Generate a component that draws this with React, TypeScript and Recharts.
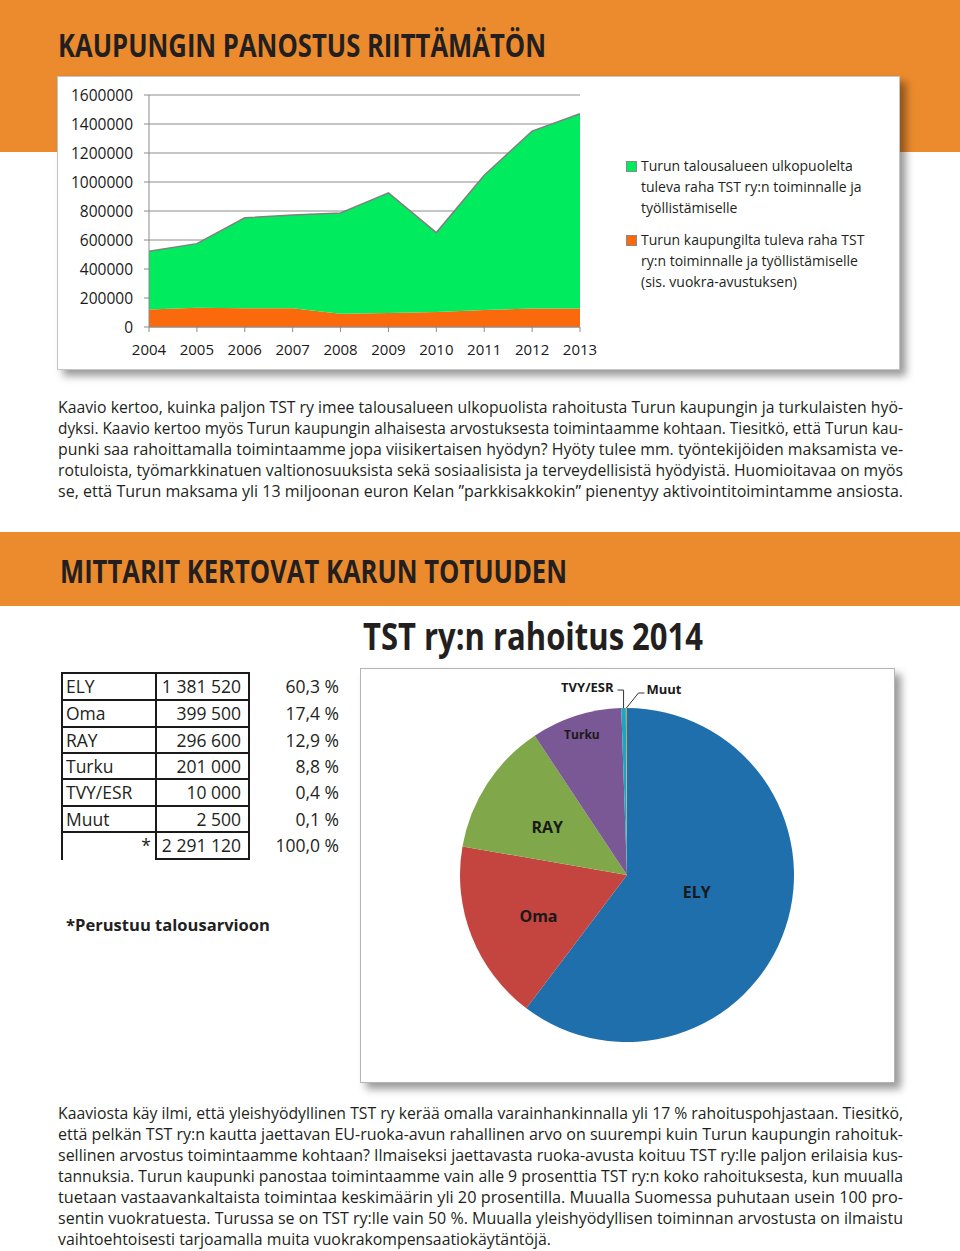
import React from "react"
import { AreaChart, Area, XAxis, YAxis, CartesianGrid, PieChart, Pie, Cell } from "recharts"

// --- area chart data ---
const years = ["2004", "2005", "2006", "2007", "2008", "2009", "2010", "2011", "2012", "2013"]
const cityMoney = [120000, 133000, 129000, 129000, 92000, 97000, 104000, 117000, 127000, 127000]
const outsideMoney = [403000, 442000, 624000, 644000, 695000, 828000, 547000, 930000, 1224000, 1344000]
const yTicks = [0, 200000, 400000, 600000, 800000, 1000000, 1200000, 1400000, 1600000]
const outsideName = "Turun talousalueen ulkopuolelta\ntuleva raha TST ry:n toiminnalle ja\ntyöllistämiselle"
const cityName = "Turun kaupungilta tuleva raha TST\nry:n toiminnalle ja työllistämiselle\n(sis. vuokra-avustuksen)"

// --- pie / table data ---
const sources = ["ELY", "Oma", "RAY", "Turku", "TVY/ESR", "Muut"]
const amounts = [1381520, 399500, 296600, 201000, 10000, 2500]
const amountLabels = ["1 381 520", "399 500", "296 600", "201 000", "10 000", "2 500"]
const shareLabels = ["60,3 %", "17,4 %", "12,9 %", "8,8 %", "0,4 %", "0,1 %"]
const totalLabel = "2 291 120"
const totalShare = "100,0 %"
const sliceColors = ["#1f6fac", "#c4443f", "#80a84a", "#7a5795", "#1ea6be", "#c8a060"]

const text1 = [
  "Kaavio kertoo, kuinka paljon TST ry imee talousalueen ulkopuolista rahoitusta Turun kaupungin ja turkulaisten hyö-",
  "dyksi. Kaavio kertoo myös Turun kaupungin alhaisesta arvostuksesta toimintaamme kohtaan. Tiesitkö, että Turun kau-",
  "punki saa rahoittamalla toimintaamme jopa viisikertaisen hyödyn? Hyöty tulee mm. työntekijöiden maksamista ve-",
  "rotuloista, työmarkkinatuen valtionosuuksista sekä sosiaalisista ja terveydellisistä hyödyistä. Huomioitavaa on myös",
  "se, että Turun maksama yli 13 miljoonan euron  Kelan ”parkkisakkokin” pienentyy  aktivointitoimintamme ansiosta.",
]
const text2 = [
  "Kaaviosta käy ilmi, että yleishyödyllinen TST ry kerää omalla varainhankinnalla yli 17 % rahoituspohjastaan. Tiesitkö,",
  "että pelkän TST ry:n kautta jaettavan EU-ruoka-avun rahallinen arvo on suurempi kuin Turun kaupungin rahoituk-",
  "sellinen arvostus toimintaamme kohtaan? Ilmaiseksi jaettavasta ruoka-avusta koituu TST ry:lle paljon erilaisia kus-",
  "tannuksia. Turun kaupunki panostaa toimintaamme vain alle 9 prosenttia TST ry:n koko rahoituksesta, kun muualla",
  "tuetaan vastaavankaltaista toimintaa keskimäärin yli 20 prosentilla. Muualla Suomessa puhutaan usein 100 pro-",
  "sentin vuokratuesta. Turussa se on TST ry:lle vain 50 %. Muualla yleishyödyllisen toiminnan arvostusta on ilmaistu",
  "vaihtoehtoisesti tarjoamalla muita vuokrakompensaatiokäytäntöjä.",
]

const areaData = years.map((year, i) => ({ year, city: cityMoney[i], outside: outsideMoney[i] }))
const pieData = sources.map((name, i) => ({ name, value: amounts[i] }))

const ORANGE = "#eb8b2e"
const INK = "#231f20"
const FONT = "'Open Sans', sans-serif"
const RAD = Math.PI / 180

const labelLook: Record<string, { r: number; size: number; dy: number }> = {
  ELY: { r: 0.44, size: 16, dy: -6 },
  Oma: { r: 0.57, size: 16, dy: 6 },
  RAY: { r: 0.57, size: 16, dy: 4 },
  Turku: { r: 0.885, size: 12, dy: 0 },
}

function pieLabel(props: any) {
  const { cx, cy, midAngle, outerRadius, name } = props
  const look = labelLook[name]
  if (look) {
    const r = outerRadius * look.r
    const x = cx + r * Math.cos(-midAngle * RAD)
    const y = cy + r * Math.sin(-midAngle * RAD) + look.dy
    return (
      <text x={x} y={y} textAnchor="middle" dominantBaseline="central" fontSize={look.size}
        fontWeight={700} fill="#1a1a1a" fontFamily={FONT}>{name}</text>
    )
  }
  const ex = cx + outerRadius * Math.cos(-midAngle * RAD)
  const ey = cy + outerRadius * Math.sin(-midAngle * RAD)
  if (name === "TVY/ESR") {
    return (
      <g>
        <path d={`M${ex - 6},${ey - 18} H${ex} V${ey}`} stroke="#333" fill="none" strokeWidth={1} />
        <text x={ex - 10} y={ey - 21} textAnchor="end" dominantBaseline="central" fontSize={13}
          fontWeight={700} fill="#1a1a1a" fontFamily={FONT}>{name}</text>
      </g>
    )
  }
  return (
    <g>
      <path d={`M${ex + 18},${ey - 15} H${ex + 12} L${ex},${ey}`} stroke="#333" fill="none" strokeWidth={1} />
      <text x={ex + 20} y={ey - 19} textAnchor="start" dominantBaseline="central" fontSize={13}
        fontWeight={700} fill="#1a1a1a" fontFamily={FONT}>{name}</text>
    </g>
  )
}

function Fit({ x, y, w, size, bold, children }: any) {
  return (
    <text x={x} y={y} fontSize={size} fontWeight={bold ? 700 : 400} fill={INK} fontFamily={FONT}
      textLength={w} lengthAdjust="spacingAndGlyphs">{children}</text>
  )
}

function LegendItem({ color, label, top }: { color: string; label: string; top: number }) {
  return (
    <div style={{ position: "absolute", left: 626, top, display: "flex", fontFamily: FONT, fontSize: 14, lineHeight: "21px", color: INK }}>
      <div style={{ width: 9, height: 9, marginTop: 6, marginRight: 4, background: color, border: "1px solid #8a8a8a" }} />
      <div style={{ whiteSpace: "pre-line" }}>{label}</div>
    </div>
  )
}

const rowTops = [673, 700, 727, 753, 779, 806, 832, 859]

export default function App() {
  const card: React.CSSProperties = {
    position: "absolute", background: "#fff", border: "1px solid #c4c4c4", boxSizing: "border-box",
    boxShadow: "6px 6px 8px rgba(0,0,0,0.4)",
  }
  return (
    <div style={{ position: "relative", width: 960, height: 1251, background: "#fff", overflow: "hidden" }}>
      <style>{"body{margin:0}"}</style>
      <div style={{ position: "absolute", left: 0, top: 0, width: 960, height: 152, background: ORANGE }} />
      <div style={{ position: "absolute", left: 0, top: 532, width: 960, height: 74, background: ORANGE }} />

      <div style={{ ...card, left: 57, top: 76, width: 843, height: 294 }} />
      <div style={{ position: "absolute", left: 57, top: 76 }}>
        <AreaChart width={560} height={294} data={areaData} margin={{ top: 19, right: 37, bottom: 13, left: 0 }}>
          <CartesianGrid vertical={false} stroke="#8c8c8c" />
          <XAxis dataKey="year" scale="point" padding={{ left: 0, right: 0 }} interval={0} height={30}
            tickSize={5} tickMargin={12} stroke="#8c8c8c"
            tick={{ fill: "#1a1a1a", fontSize: 15, fontFamily: FONT }} />
          <YAxis domain={[0, 1600000]} ticks={yTicks} width={92} tickSize={5} tickMargin={11}
            stroke="#8c8c8c" interval={0}
            tick={{ fill: "#1a1a1a", fontSize: 15.5, fontFamily: FONT }} />
          <Area type="linear" dataKey="city" stackId="a" stroke="none" fill="#fa6a0c" fillOpacity={1}
            isAnimationActive={false} />
          <Area type="linear" dataKey="outside" stackId="a" stroke="#808080" strokeWidth={1.5} fill="#00eb5e"
            fillOpacity={1} isAnimationActive={false} />
        </AreaChart>
      </div>
      <LegendItem color="#00eb5e" label={outsideName} top={155} />
      <LegendItem color="#fa6a0c" label={cityName} top={229} />

      <div style={{ ...card, left: 360, top: 668, width: 535, height: 415, borderColor: "#b4b4b4" }} />
      <div style={{ position: "absolute", left: 360, top: 668 }}>
        <PieChart width={535} height={415} margin={{ top: 0, right: 0, bottom: 0, left: 0 }}>
          <Pie data={pieData} dataKey="value" nameKey="name" cx={267} cy={207} outerRadius={167}
            startAngle={90} endAngle={-270} stroke="none" labelLine={false} label={pieLabel}
            isAnimationActive={false}>
            {pieData.map((d, i) => <Cell key={d.name} fill={sliceColors[i]} />)}
          </Pie>
        </PieChart>
      </div>

      <svg width={960} height={1251} style={{ position: "absolute", left: 0, top: 0, pointerEvents: "none" }}>
        <Fit x={58} y={57} w={488} size={32} bold>KAUPUNGIN PANOSTUS RIITTÄMÄTÖN</Fit>
        <Fit x={60} y={583} w={507} size={33} bold>MITTARIT KERTOVAT KARUN TOTUUDEN</Fit>
        <Fit x={363} y={650} w={340} size={37} bold>TST ry:n rahoitus 2014</Fit>

        {text1.map((line, i) => (
          <Fit key={i} x={58} y={413 + i * 21} w={845} size={15.5}>{line}</Fit>
        ))}
        {text2.map((line, i) => (
          <Fit key={i} x={58} y={1119 + i * 21} w={i === text2.length - 1 ? 493 : 845} size={15.5}>{line}</Fit>
        ))}

        {/* table */}
        <g stroke="#1a1a1a" strokeWidth={2}>
          {rowTops.slice(0, 7).map((y) => <line key={y} x1={62} x2={249} y1={y} y2={y} />)}
          <line x1={156} x2={249} y1={859} y2={859} />
          <line x1={62} x2={62} y1={672} y2={860} />
          <line x1={156} x2={156} y1={672} y2={860} />
          <line x1={249} x2={249} y1={672} y2={860} />
        </g>
        {sources.map((s, i) => {
          const mid = (rowTops[i] + rowTops[i + 1]) / 2 + 6.5
          return (
            <g key={s} fontFamily={FONT} fontSize={17.5} fill={INK}>
              <text x={66} y={mid}>{s}</text>
              <text x={241} y={mid} textAnchor="end">{amountLabels[i]}</text>
              <text x={339} y={mid} textAnchor="end">{shareLabels[i]}</text>
            </g>
          )
        })}
        <g fontFamily={FONT} fontSize={17.5} fill={INK}>
          <text x={151} y={852} textAnchor="end">*</text>
          <text x={241} y={852} textAnchor="end">{totalLabel}</text>
          <text x={339} y={852} textAnchor="end">{totalShare}</text>
        </g>
        <Fit x={66} y={931} w={204} size={16} bold>*Perustuu talousarvioon</Fit>
      </svg>
    </div>
  )
}
